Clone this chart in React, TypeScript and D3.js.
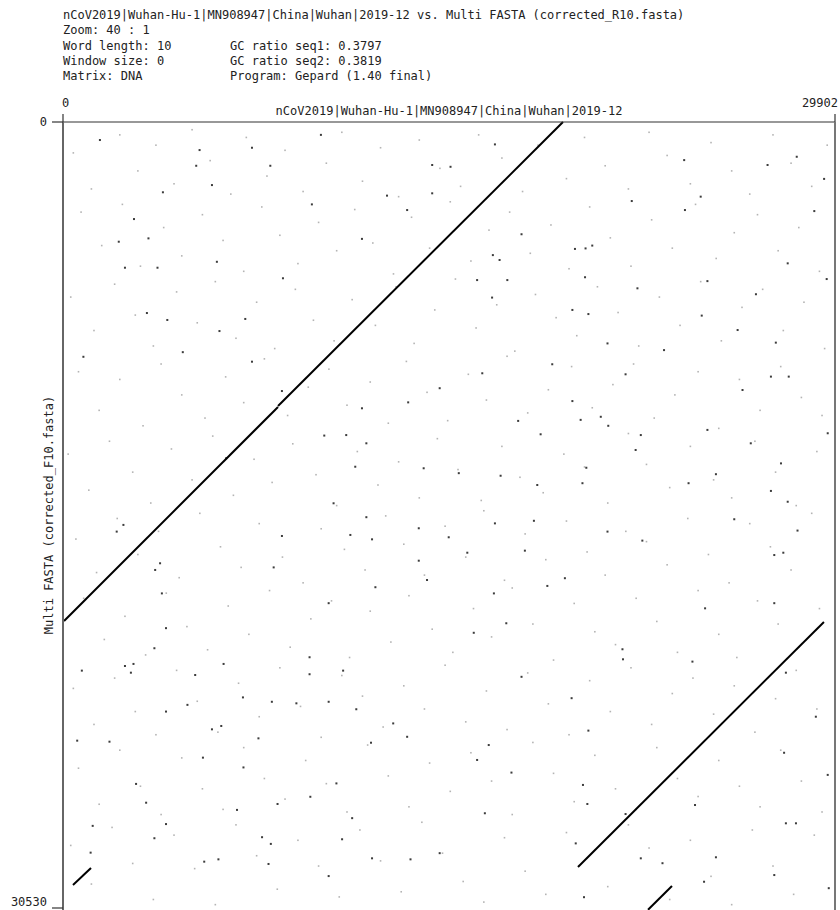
import React from "react";
import * as d3 from "d3";

// Sequence lengths (bp)
const SEQ1_LEN = 29902;
const SEQ2_LEN = 30530;

const X_TICKS = [0, 29902];
const Y_TICKS = [0, 30530];

const HEADER_LEFT = [
  "nCoV2019|Wuhan-Hu-1|MN908947|China|Wuhan|2019-12 vs. Multi FASTA (corrected_R10.fasta)",
  "Zoom: 40 : 1",
  "Word length: 10",
  "Window size: 0",
  "Matrix: DNA",
];
const HEADER_RIGHT = ["", "", "GC ratio seq1: 0.3797", "GC ratio seq2: 0.3819", "Program: Gepard (1.40 final)"];

const X_TITLE = "nCoV2019|Wuhan-Hu-1|MN908947|China|Wuhan|2019-12";
const Y_TITLE = "Multi FASTA (corrected_F10.fasta)";

// Match segments (bp): [seq1 start, seq2 start, seq1 end, seq2 end]
const SEGMENTS: [number, number, number, number][] = [
  [40, 19382, 8328, 11070],
  [8328, 11031, 19366, 0],
  [19947, 28936, 29474, 19420],
  [387, 29635, 1084, 28975],
  [23587, 29674, 22660, 30600],
];

// Stronger spurious word hits (kb)
const DARK_DOTS: [number, number][] = [
  [1.43,0.70],[5.29,1.09],[7.32,1.00],[5.16,1.70],[9.99,0.50],[8.03,1.70],[5.77,2.45],[3.87,2.73],[9.64,3.20],[12.55,2.86],
  [14.30,2.77],[2.75,3.77],[3.31,4.52],[5.96,5.43],[2.40,5.66],[3.66,5.66],[8.52,6.07],[11.58,4.54],[13.33,3.42],[6.06,8.12],
  [4.04,7.69],[7.32,9.31],[4.64,8.94],[0.79,9.12],[13.37,10.89],[11.58,11.12],[10.12,12.18],[10.97,12.16],[11.32,13.39],[8.48,10.45],
  [11.75,12.48],[14.59,10.34],[2.16,4.65],[3.25,7.42],[7.06,7.65],[6.32,13.06],[10.48,14.81],[13.97,13.45],[14.30,1.67],[15.01,1.74],
  [16.73,0.87],[22.03,3.07],[24.70,2.90],[24.09,3.42],[27.29,1.67],[29.10,3.46],[29.48,2.21],[24.06,1.48],[17.76,4.36],[19.83,4.93],
  [20.24,4.91],[20.50,4.80],[16.65,5.17],[16.91,5.36],[16.04,6.14],[17.21,6.14],[20.22,6.03],[24.96,6.18],[28.07,5.49],[29.58,6.10],
  [16.62,6.82],[19.73,7.30],[20.35,7.46],[24.74,7.52],[26.13,8.08],[27.61,8.57],[21.09,8.60],[18.95,9.41],[16.24,9.76],[21.79,9.80],
  [27.42,9.89],[28.11,9.89],[26.32,10.41],[19.73,10.84],[20.05,11.57],[20.83,11.45],[17.63,11.61],[21.12,11.80],[22.38,12.16],[22.18,12.74],
  [24.96,11.96],[18.50,12.13],[20.27,13.43],[20.12,14.03],[18.37,14.10],[16.95,13.74],[15.33,13.64],[24.23,14.03],[25.29,13.68],[27.42,14.33],
  [27.81,13.26],[29.62,12.09],[28.07,14.75],[26.64,12.48],[23.28,8.86],[22.25,6.46],[26.84,6.69],[28.42,1.35],
  [2.34,15.65],[2.08,15.91],[3.76,17.14],[3.57,17.40],[8.48,16.08],[8.16,17.30],[11.75,15.35],[11.13,16.04],[11.97,16.21],[13.78,15.78],
  [14.94,16.13],[13.78,17.04],[14.10,17.79],[12.10,18.07],[10.29,18.69],[3.83,18.31],[3.99,19.66],[3.54,20.44],[2.40,21.13],[2.73,21.05],
  [2.63,21.39],[0.73,21.31],[5.12,21.48],[6.22,21.05],[9.55,20.79],[9.55,21.45],[10.85,21.31],[4.82,22.64],[3.99,22.90],[6.97,22.35],
  [8.09,22.52],[9.04,22.58],[10.29,22.52],[11.36,22.81],[12.79,23.36],[5.77,23.59],[6.13,23.46],[7.57,23.94],[11.93,24.11],[13.33,23.88],
  [0.55,24.03],[1.80,24.07],[5.42,24.69],[6.99,25.07],[3.22,26.44],[6.74,26.72],[8.31,26.49],[9.58,26.21],[10.59,25.69],[11.20,27.04],
  [1.15,27.34],[3.99,27.27],[3.54,27.82],[7.71,27.78],[8.05,28.04],[10.81,27.86],[6.02,28.64],[5.47,28.73],[7.96,28.82],[11.97,28.60],
  [14.59,28.40],[13.46,28.64],[10.29,29.29],[1.07,28.38],[2.83,25.71],
  [16.73,15.59],[18.24,15.49],[15.66,16.73],[17.89,16.65],[21.09,15.91],[22.44,16.26],[26.00,15.43],[27.90,16.73],[27.55,16.82],[28.45,15.87],
  [19.44,17.72],[18.76,18.02],[16.69,18.31],[24.87,18.89],[27.55,18.69],[17.17,19.47],[15.91,19.84],[21.67,20.48],[21.69,20.87],[24.38,20.96],
  [28.00,21.39],[17.76,21.55],[19.70,22.38],[20.35,23.64],[16.49,24.20],[16.04,24.78],[17.37,25.27],[20.14,25.75],[20.31,26.49],[16.34,26.85],
  [21.79,26.88],[28.00,27.24],[28.39,27.24],[25.29,28.56],[19.86,28.02],[20.18,30.11],[24.83,29.51],[29.66,29.76],[27.55,29.25],[29.16,23.10],
  [29.62,25.36],[27.93,24.50],[24.48,26.53],[22.38,28.60],[23.22,28.79],
];

// Faint spurious word hits (kb)
const LIGHT_DOTS: [number, number][] = [
  [0.4,1.2],[1.1,2.6],[2.2,0.5],[2.9,1.9],[3.6,0.9],[4.3,2.4],[5.0,0.3],[5.7,1.5],[6.5,2.8],[7.1,0.6],[7.9,2.1],[8.6,1.1],[9.3,2.7],[10.2,1.6],[10.8,0.4],[11.6,2.3],[12.3,1.0],[13.0,2.9],[13.8,0.7],[14.6,1.8],[15.4,2.5],[16.1,0.5],[17.0,1.4],[17.8,2.7],[18.4,0.9],[19.5,2.2],[20.2,0.6],[21.0,1.7],[21.9,2.6],[22.7,0.4],[23.4,1.3],[24.3,2.4],[25.1,0.8],[25.9,1.9],[26.6,2.8],[27.5,0.5],[28.2,1.6],[29.0,2.5],[29.6,0.9],
  [0.7,3.5],[1.5,4.8],[2.3,3.2],[3.0,5.6],[3.9,4.1],[4.6,5.2],[5.4,3.6],[6.2,4.6],[7.0,5.8],[7.7,3.3],[8.4,4.4],[9.1,5.5],[9.9,3.9],[10.6,5.0],[11.3,3.4],[12.0,4.7],[12.8,5.9],[13.5,3.7],[14.2,4.9],[15.0,3.1],[15.8,5.4],[16.5,4.2],[17.3,3.5],[18.1,5.1],[18.9,4.0],[19.6,5.7],[20.4,3.3],[21.2,4.5],[22.0,5.6],[22.8,3.8],[23.6,4.9],[24.5,3.2],[25.3,5.3],[26.0,4.3],[26.9,3.6],[27.7,5.0],[28.5,4.1],[29.3,5.8],
  [0.3,6.8],[1.2,8.1],[2.0,6.3],[2.8,7.5],[3.5,8.7],[4.4,6.6],[5.2,7.8],[5.9,6.2],[6.7,8.4],[7.5,7.0],[8.2,8.8],[9.0,6.5],[9.7,7.7],[10.5,8.5],[11.2,6.9],[12.1,7.9],[12.9,6.4],[13.6,8.6],[14.4,7.3],[15.2,6.1],[16.0,8.0],[16.8,7.1],[17.5,8.9],[18.3,6.7],[19.1,7.6],[19.9,8.3],[20.7,6.4],[21.5,7.4],[22.3,8.7],[23.1,6.8],[23.9,7.9],[24.7,6.2],[25.5,8.5],[26.3,7.2],[27.1,6.5],[27.9,8.1],[28.7,7.0],[29.5,8.8],
  [0.6,9.7],[1.4,11.2],[2.2,10.0],[3.1,11.8],[3.8,9.4],[4.6,10.6],[5.5,11.5],[6.3,9.9],[7.0,10.9],[7.8,9.2],[8.7,11.4],[9.5,10.3],[10.3,9.6],[11.0,11.0],[11.9,10.1],[12.6,11.7],[13.3,9.3],[14.1,10.5],[14.9,11.6],[15.7,9.8],[16.4,10.8],[17.2,9.1],[18.0,11.3],[18.8,10.4],[19.7,9.5],[20.5,11.1],[21.3,10.2],[22.1,9.4],[22.9,11.5],[23.7,10.6],[24.6,9.7],[25.4,11.9],[26.2,10.0],[27.0,11.2],[27.8,9.5],[28.6,10.7],[29.4,11.4],
  [0.2,12.9],[1.0,14.3],[1.8,12.4],[2.7,13.6],[3.4,14.8],[4.2,12.7],[5.0,13.9],[5.8,12.2],[6.6,14.5],[7.4,13.1],[8.1,14.0],[8.9,12.5],[9.8,13.7],[10.6,14.9],[11.4,12.8],[12.2,14.1],[13.0,13.2],[13.8,14.6],[14.5,12.3],[15.3,13.5],[16.2,14.7],[17.0,12.6],[17.7,13.8],[18.6,14.4],[19.4,12.9],[20.2,13.4],[21.1,14.8],[21.9,12.1],[22.6,13.3],[23.5,14.2],[24.3,12.6],[25.2,13.9],[25.9,14.6],[26.8,12.4],[27.6,13.6],[28.4,14.9],[29.2,12.8],
  [0.5,16.2],[1.3,17.5],[2.1,15.4],[2.9,16.8],[3.7,15.9],[4.5,17.7],[5.3,15.2],[6.1,16.5],[6.9,17.3],[7.6,15.6],[8.5,16.9],[9.3,17.9],[10.0,15.8],[10.9,16.6],[11.7,17.4],[12.5,15.3],[13.2,16.4],[14.0,17.6],[14.8,15.7],[15.6,16.9],[16.3,15.1],[17.1,17.8],[17.9,16.0],[18.7,17.0],[19.5,15.5],[20.3,16.7],[21.0,17.6],[21.8,15.9],[22.6,16.3],[23.4,17.2],[24.2,15.4],[25.0,16.8],[25.8,17.9],[26.6,15.6],[27.4,16.5],[28.2,17.4],[29.0,15.2],
  [0.8,18.5],[1.6,20.1],[2.4,19.2],[3.2,20.7],[4.0,18.3],[4.8,19.6],[5.6,20.5],[6.4,18.8],[7.2,19.9],[8.0,18.2],[8.8,20.4],[9.6,19.3],[10.4,18.6],[11.1,20.8],[11.9,19.0],[12.7,20.2],[13.4,18.4],[14.3,19.7],[15.1,20.6],[15.9,18.9],[16.6,20.0],[17.4,18.1],[18.2,19.5],[19.0,20.9],[19.8,18.7],[20.6,19.8],[21.4,20.3],[22.2,18.5],[23.0,19.4],[23.8,20.6],[24.6,18.2],[25.4,19.9],[26.1,20.8],[26.9,18.6],[27.7,19.5],[28.5,20.4],[29.3,18.9],
  [0.4,22.0],[1.2,23.4],[2.0,21.6],[2.8,22.9],[3.6,23.8],[4.4,21.3],[5.2,22.5],[6.0,23.7],[6.8,21.8],[7.6,23.1],[8.4,21.2],[9.2,22.7],[10.0,23.9],[10.8,21.5],[11.6,22.3],[12.4,23.5],[13.2,21.9],[14.0,22.8],[14.8,21.1],[15.6,23.3],[16.4,22.1],[17.2,23.6],[18.0,21.4],[18.8,22.6],[19.6,23.8],[20.4,21.7],[21.2,22.9],[22.0,21.2],[22.8,23.4],[23.6,22.2],[24.4,21.6],[25.2,23.0],[26.0,21.9],[26.8,23.7],[27.6,22.4],[28.4,21.3],[29.2,22.8],
  [0.6,25.1],[1.4,26.5],[2.2,24.4],[3.0,25.8],[3.8,26.9],[4.6,24.7],[5.4,25.9],[6.2,26.7],[7.0,24.3],[7.8,25.5],[8.6,26.3],[9.4,24.8],[10.2,25.7],[11.0,26.8],[11.8,24.2],[12.6,25.4],[13.4,26.6],[14.2,24.9],[15.0,26.0],[15.8,24.5],[16.6,25.6],[17.4,26.9],[18.2,24.1],[19.0,25.3],[19.8,26.4],[20.6,24.6],[21.4,25.9],[22.2,26.7],[23.0,24.3],[23.8,25.5],[24.6,26.2],[25.4,24.8],[26.2,25.8],[27.0,26.6],[27.8,24.4],[28.6,25.6],[29.4,26.8],
  [0.3,28.1],[1.1,29.6],[1.9,27.4],[2.7,28.8],[3.5,30.2],[4.3,27.7],[5.1,29.0],[5.9,30.4],[6.7,27.3],[7.5,28.5],[8.3,29.8],[9.1,27.9],[9.9,28.9],[10.7,30.1],[11.5,27.5],[12.3,28.7],[13.1,29.9],[13.9,27.2],[14.7,28.4],[15.5,29.5],[16.3,30.3],[17.1,27.8],[17.9,29.1],[18.7,30.0],[19.5,27.6],[20.3,28.6],[21.1,29.7],[21.9,27.3],[22.7,28.2],[23.5,30.2],[24.3,27.9],[25.1,29.3],[25.9,30.4],[26.7,27.5],[27.5,28.9],[28.3,30.0],[29.1,27.7],
];

const FONT = "'DejaVu Sans Mono', 'Liberation Mono', monospace";

export default function App() {
  const W = 840, H = 910;
  const x = d3.scaleLinear().domain([0, SEQ1_LEN]).range([63, 835]);
  const y = d3.scaleLinear().domain([0, SEQ2_LEN]).range([122, 908]);
  const [x0, x1] = x.range();
  const [y0, y1] = y.range();
  const headerY = [18.5, 34, 49.5, 64.5, 79.5];

  return (
    <svg width={W} height={H} style={{ position: "absolute", left: 0, top: 0, background: "#fff" }}
      fontFamily={FONT} fontSize={12}>
      <rect x={0} y={0} width={W} height={H} fill="#fff" />
      {HEADER_LEFT.map((t, i) => (
        <text key={"hl" + i} x={63} y={headerY[i]} fill="#222" xmlSpace="preserve">{t}</text>
      ))}
      {HEADER_RIGHT.map((t, i) => t ? (
        <text key={"hr" + i} x={230} y={headerY[i]} fill="#222" xmlSpace="preserve">{t}</text>
      ) : null)}

      {/* light dots */}
      <g fill="#b4b4b4">
        {LIGHT_DOTS.map(([a, b], i) => (
          <rect key={"l" + i} x={x(a * 1000) - 0.8} y={y(b * 1000) - 0.8} width={1.6} height={1.6} />
        ))}
      </g>
      {/* dark dots */}
      <g fill="#3c3c3c">
        {DARK_DOTS.map(([a, b], i) => (
          <rect key={"d" + i} x={x(a * 1000) - 1} y={y(b * 1000) - 1} width={2} height={2} />
        ))}
      </g>

      {/* match segments */}
      <g stroke="#000" strokeWidth={2} strokeLinecap="butt">
        {SEGMENTS.map(([a, b, c, d], i) => (
          <line key={"s" + i} x1={x(a)} y1={y(b)} x2={x(c)} y2={y(d)} />
        ))}
      </g>

      {/* frame */}
      <line x1={x0} y1={y0} x2={x1} y2={y0} stroke="#333" strokeWidth={1.2} />
      <line x1={x0} y1={y0} x2={x0} y2={H} stroke="#666" strokeWidth={2} />
      <line x1={x1} y1={y0} x2={x1} y2={H} stroke="#777" strokeWidth={2} />

      {/* x ticks */}
      {X_TICKS.map((t, i) => (
        <g key={"xt" + i}>
          <line x1={x(t)} y1={y0 - 8} x2={x(t)} y2={y0} stroke="#333" strokeWidth={1.2} />
          <text x={i === 0 ? x(t) - 1 : x(t) + 3} y={y0 - 15} textAnchor={i === 0 ? "start" : "end"} fill="#222">
            {d3.format("d")(t)}
          </text>
        </g>
      ))}
      {/* y ticks */}
      {Y_TICKS.map((t, i) => (
        <g key={"yt" + i}>
          <line x1={x0 - 11} y1={y(t)} x2={x0} y2={y(t)} stroke="#333" strokeWidth={1.2} />
          <text x={x0 - 16} y={Math.min(y(t) + 4, 906)} textAnchor="end" fill="#222">{d3.format("d")(t)}</text>
        </g>
      ))}

      <text x={(x0 + x1) / 2} y={y0 - 7} textAnchor="middle" fill="#222">{X_TITLE}</text>
      <text transform={`translate(${x0 - 10},${(y0 + y1) / 2}) rotate(-90)`} textAnchor="middle" fill="#222">
        {Y_TITLE}
      </text>
    </svg>
  );
}
